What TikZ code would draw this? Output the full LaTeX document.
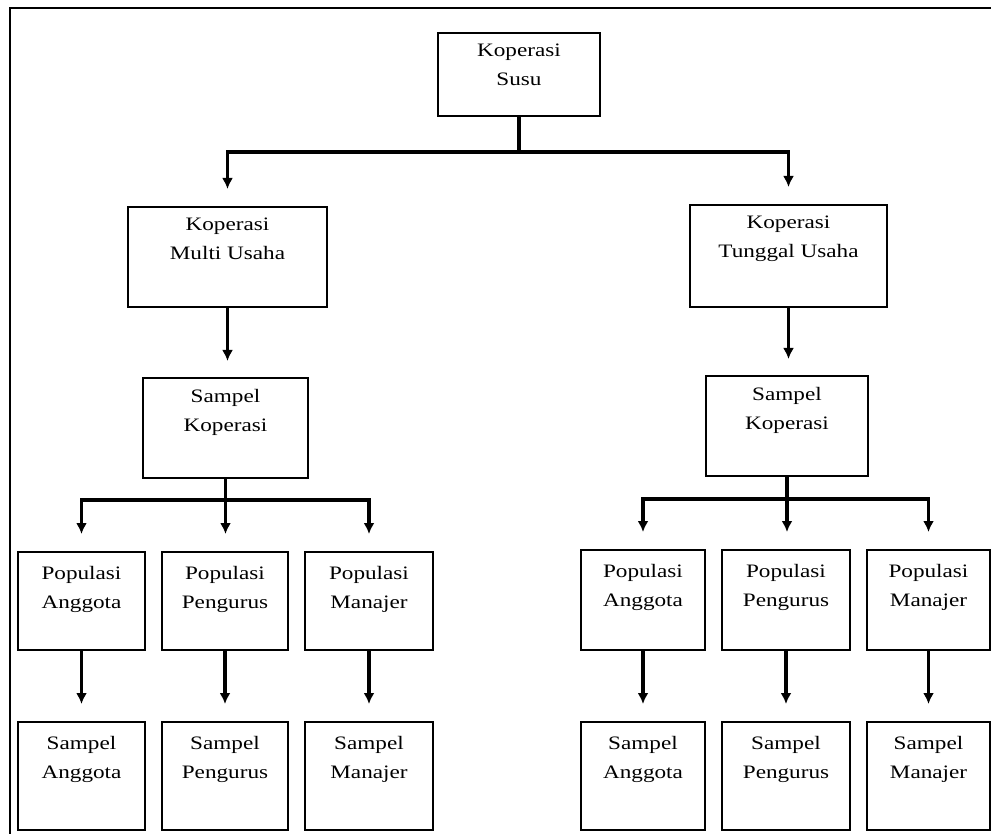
\documentclass[tikz,border=0pt]{standalone}
\usepackage{fontspec}
\setmainfont[FakeStretch=1.22]{Liberation Serif}
\usetikzlibrary{arrows.meta}
\begin{document}
\begin{tikzpicture}[x=1pt,y=-1pt,
  box/.style={draw, line width=2pt, rectangle, inner sep=0pt},
  lbl/.style={anchor=north, align=center, inner sep=0pt,
    font=\fontsize{19}{29}\selectfont},
  conn/.style={line width=3.2pt},
  arr/.style={line width=3.2pt, -{Latex[length=11pt,width=11pt]}}
]
\useasboundingbox (0,0) rectangle (991,834);

% outer frame (top and left edges)
\draw[line width=1.8pt] (991,8) -- (10,8) -- (10,834);

% top level
\node[box, minimum width=162pt, minimum height=83pt] (susu) at (519,74.5) {};
\node[lbl] at ([yshift=-12pt]susu.north) {Koperasi\\Susu};

% second level
\node[box, minimum width=199pt, minimum height=100pt] (multi) at (227.5,257) {};
\node[lbl] at ([yshift=-12pt]multi.north) {Koperasi\\Multi Usaha};
\node[box, minimum width=197pt, minimum height=102pt] (tunggal) at (788.5,256) {};
\node[lbl] at ([yshift=-12pt]tunggal.north) {Koperasi\\Tunggal Usaha};

% sample of cooperatives
\node[box, minimum width=165pt, minimum height=100pt] (skL) at (225.5,428) {};
\node[lbl] at ([yshift=-12pt]skL.north) {Sampel\\Koperasi};
\node[box, minimum width=162pt, minimum height=100pt] (skR) at (787,426) {};
\node[lbl] at ([yshift=-12pt]skR.north) {Sampel\\Koperasi};

% populations, left group
\node[box, minimum width=127pt, minimum height=98pt] (pa1) at (81.5,601) {};
\node[lbl] at ([yshift=-15pt]pa1.north) {Populasi\\Anggota};
\node[box, minimum width=126pt, minimum height=98pt] (pp1) at (225,601) {};
\node[lbl] at ([yshift=-15pt]pp1.north) {Populasi\\Pengurus};
\node[box, minimum width=128pt, minimum height=98pt] (pm1) at (369,601) {};
\node[lbl] at ([yshift=-15pt]pm1.north) {Populasi\\Manajer};

% populations, right group
\node[box, minimum width=124pt, minimum height=100pt] (pa2) at (643,600) {};
\node[lbl] at ([yshift=-15pt]pa2.north) {Populasi\\Anggota};
\node[box, minimum width=128pt, minimum height=100pt] (pp2) at (786,600) {};
\node[lbl] at ([yshift=-15pt]pp2.north) {Populasi\\Pengurus};
\node[box, minimum width=123pt, minimum height=100pt] (pm2) at (928.5,600) {};
\node[lbl] at ([yshift=-15pt]pm2.north) {Populasi\\Manajer};

% samples, left group
\node[box, minimum width=127pt, minimum height=108pt] (sa1) at (81.5,776) {};
\node[lbl] at ([yshift=-15pt]sa1.north) {Sampel\\Anggota};
\node[box, minimum width=126pt, minimum height=108pt] (sp1) at (225,776) {};
\node[lbl] at ([yshift=-15pt]sp1.north) {Sampel\\Pengurus};
\node[box, minimum width=128pt, minimum height=108pt] (sm1) at (369,776) {};
\node[lbl] at ([yshift=-15pt]sm1.north) {Sampel\\Manajer};

% samples, right group
\node[box, minimum width=124pt, minimum height=108pt] (sa2) at (643,776) {};
\node[lbl] at ([yshift=-15pt]sa2.north) {Sampel\\Anggota};
\node[box, minimum width=128pt, minimum height=108pt] (sp2) at (786,776) {};
\node[lbl] at ([yshift=-15pt]sp2.north) {Sampel\\Pengurus};
\node[box, minimum width=123pt, minimum height=108pt] (sm2) at (928.5,776) {};
\node[lbl] at ([yshift=-15pt]sm2.north) {Sampel\\Manajer};

% branch levels
\coordinate (h1) at (0,152);
\coordinate (hL) at (0,500);
\coordinate (hR) at (0,499);

% Koperasi Susu splits in two
\draw[conn] (susu.south) -- (susu.south |- h1);
\draw[arr] (susu.south |- h1) -| ([yshift=17pt]multi.north);
\draw[arr] (susu.south |- h1) -| ([yshift=17pt]tunggal.north);

% each type to its sample
\draw[arr] (multi.south) -- ([yshift=16pt]multi.south |- skL.north);
\draw[arr] (tunggal.south) -- ([yshift=16pt]tunggal.south |- skR.north);

% left sample splits in three
\draw[conn] (skL.south) -- (skL.south |- hL);
\draw[arr] (skL.south |- hL) -| ([yshift=17pt]pa1.north);
\draw[arr] (skL.south |- hL) -- ([yshift=17pt]skL.south |- pp1.north);
\draw[arr] (skL.south |- hL) -| ([yshift=17pt]pm1.north);

% right sample splits in three
\draw[conn] (skR.south) -- (skR.south |- hR);
\draw[arr] (skR.south |- hR) -| ([yshift=17pt]pa2.north);
\draw[arr] (skR.south |- hR) -- ([yshift=17pt]skR.south |- pp2.north);
\draw[arr] (skR.south |- hR) -| ([yshift=17pt]pm2.north);

% populations to samples
\foreach \p/\s in {pa1/sa1, pp1/sp1, pm1/sm1, pa2/sa2, pp2/sp2, pm2/sm2}
  \draw[arr] (\p.south) -- ([yshift=17pt]\s.north);
\end{tikzpicture}
\end{document}
